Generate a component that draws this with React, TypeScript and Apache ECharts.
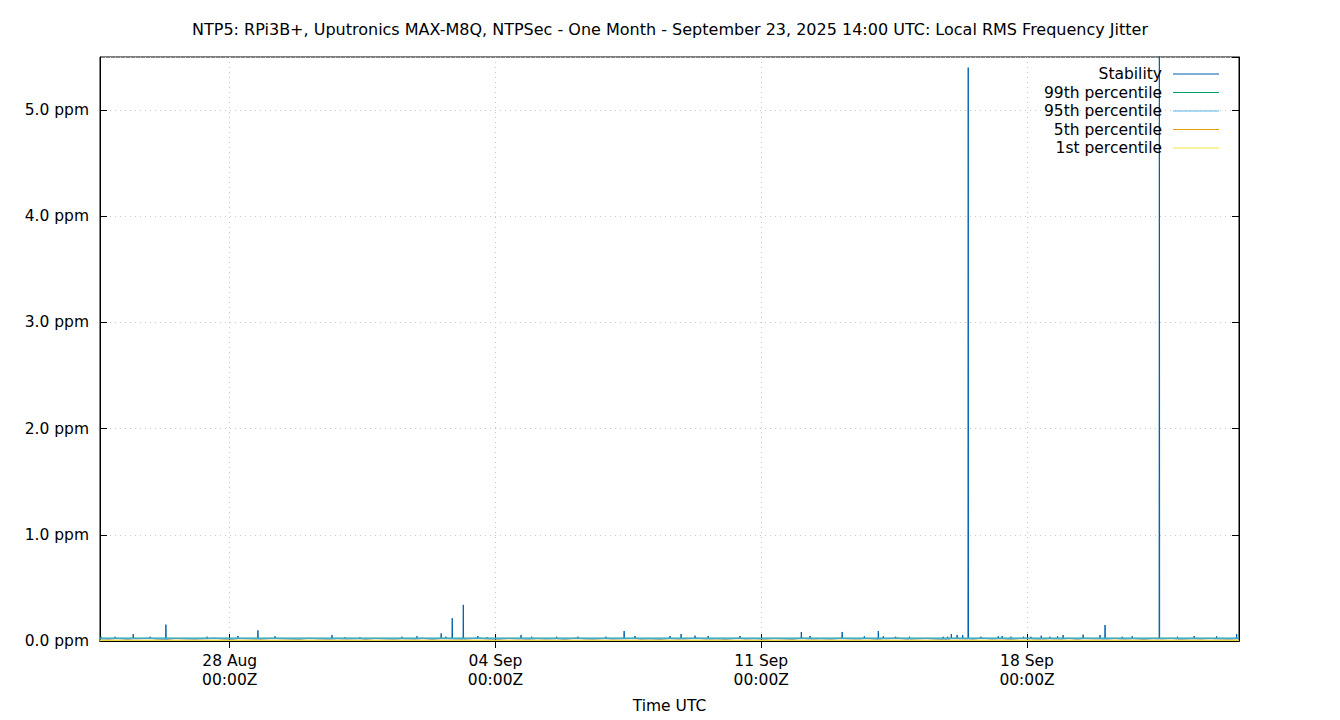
import { useEffect, useRef } from "react";
import * as echarts from "echarts";

const TITLE =
  "NTP5: RPi3B+, Uputronics MAX-M8Q, NTPSec - One Month - September 23, 2025 14:00 UTC: Local RMS Frequency Jitter";

const rangeStart = "2025-08-24T14:00:00Z";
const rangeEnd = "2025-09-23T14:00:00Z";
const tickDates = [
  "2025-08-28T00:00:00Z",
  "2025-09-04T00:00:00Z",
  "2025-09-11T00:00:00Z",
  "2025-09-18T00:00:00Z",
];
const yMax = 5.5;

// background jitter (ppm), one reading every 6 h from rangeStart
const baseJitter = [
  0.021, 0.019, 0.023, 0.018, 0.022, 0.025, 0.02, 0.017, 0.024, 0.021,
  0.019, 0.022, 0.026, 0.02, 0.018, 0.023, 0.021, 0.019, 0.024, 0.022,
  0.02, 0.018, 0.025, 0.021, 0.019, 0.023, 0.02, 0.022, 0.018, 0.024,
  0.021, 0.019, 0.022, 0.02, 0.025, 0.018, 0.023, 0.021, 0.019, 0.022,
  0.026, 0.02, 0.018, 0.024, 0.021, 0.019, 0.023, 0.02, 0.022, 0.018,
  0.025, 0.021, 0.019, 0.023, 0.02, 0.022, 0.024, 0.019, 0.021, 0.018,
  0.023, 0.02, 0.022, 0.025, 0.019, 0.021, 0.018, 0.024, 0.02, 0.022,
  0.019, 0.023, 0.021, 0.018, 0.025, 0.02, 0.022, 0.019, 0.024, 0.021,
  0.02, 0.023, 0.018, 0.022, 0.026, 0.019, 0.021, 0.024, 0.02, 0.018,
  0.023, 0.021, 0.019, 0.025, 0.02, 0.022, 0.018, 0.024, 0.021, 0.019,
  0.022, 0.02, 0.025, 0.018, 0.023, 0.021, 0.019, 0.024, 0.02, 0.022,
  0.018, 0.023, 0.021, 0.025, 0.019, 0.022, 0.02, 0.024, 0.021, 0.019,
  0.022,
];

// short excursions (UTC, 2025)
const spikeTimes = [
  "08-24 14:40", "08-24 23:30", "08-25 11:00", "08-25 21:40", "08-26 07:40",
  "08-27 09:40", "08-28 05:10", "08-28 17:50", "08-29 04:40", "08-30 16:40",
  "08-31 00:50", "08-31 10:20", "09-01 12:50", "09-01 22:20", "09-02 13:40",
  "09-02 16:40", "09-02 20:40", "09-03 03:40", "09-03 12:50", "09-03 18:40",
  "09-04 16:10", "09-04 22:50", "09-05 14:40", "09-06 04:10", "09-06 21:50",
  "09-07 09:20", "09-07 16:10", "09-08 14:20", "09-08 21:20", "09-09 06:10",
  "09-09 14:30", "09-10 10:30", "09-12 01:20", "09-12 06:50", "09-13 03:10",
  "09-13 17:10", "09-14 02:00", "09-14 05:10", "09-14 13:00", "09-14 21:40",
  "09-15 19:00", "09-15 21:50", "09-16 00:10", "09-16 03:50", "09-16 07:20",
  "09-16 10:50", "09-16 18:50", "09-17 05:50", "09-17 08:20", "09-17 13:50",
  "09-17 21:50", "09-18 02:30", "09-18 09:00", "09-18 14:30", "09-18 19:20",
  "09-18 22:50", "09-19 11:30", "09-19 22:10", "09-20 01:20", "09-20 12:10",
  "09-20 18:30", "09-21 11:40", "09-21 23:10", "09-22 09:40", "09-22 23:50",
  "09-23 12:30",
];
const spikeValues = [
  0.04, 0.04, 0.066, 0.04, 0.154,
  0.04, 0.047, 0.1, 0.045, 0.056,
  0.035, 0.035, 0.04, 0.045, 0.072,
  0.04, 0.214, 0.34, 0.047, 0.035,
  0.057, 0.04, 0.04, 0.04, 0.04,
  0.094, 0.047, 0.047, 0.066, 0.05,
  0.047, 0.047, 0.085, 0.047, 0.085,
  0.045, 0.094, 0.045, 0.04, 0.04,
  0.04, 0.04, 0.066, 0.056, 0.056,
  5.4, 0.04, 0.045, 0.047, 0.04,
  0.04, 0.04, 0.05, 0.04, 0.045,
  0.056, 0.06, 0.056, 0.15, 0.04,
  0.045, 7.5, 0.04, 0.047, 0.045,
  0.066,
];

const seriesNames = ["Stability", "99th percentile", "95th percentile", "5th percentile", "1st percentile"];
const seriesColors = ["#0060ad", "#009e73", "#56b4e9", "#e69f00", "#f0e442"];
const percentileValues = [0.027, 0.026, 0.007, 0.006];

const FONT = "DejaVu Sans";
const HOUR = 3600 * 1000;

function buildStability(): [number, number][] {
  const t0 = Date.parse(rangeStart);
  const pts: [number, number][] = baseJitter.map((v, i) => [t0 + i * 6 * HOUR, v]);
  spikeTimes.forEach((s, i) => {
    const t = Date.parse(`2025-${s.replace(" ", "T")}:00Z`);
    const near = baseJitter[Math.min(baseJitter.length - 1, Math.round((t - t0) / (6 * HOUR)))];
    pts.push([t - 10 * 60 * 1000, near], [t, spikeValues[i]], [t + 10 * 60 * 1000, near]);
  });
  return pts.sort((a, b) => a[0] - b[0]);
}

const MONTHS = ["Jan", "Feb", "Mar", "Apr", "May", "Jun", "Jul", "Aug", "Sep", "Oct", "Nov", "Dec"];
function dayLabel(v: number) {
  const d = new Date(v);
  const dd = String(d.getUTCDate()).padStart(2, "0");
  const hh = String(d.getUTCHours()).padStart(2, "0");
  const mm = String(d.getUTCMinutes()).padStart(2, "0");
  return `${dd} ${MONTHS[d.getUTCMonth()]}\n${hh}:${mm}Z`;
}

export default function App() {
  const ref = useRef<HTMLDivElement>(null);

  useEffect(() => {
    if (!ref.current) return;
    const chart = echarts.init(ref.current, undefined, { renderer: "svg" });
    const xMin = Date.parse(rangeStart);
    const xMax = Date.parse(rangeEnd);
    const ticks = tickDates.map((d) => Date.parse(d));
    const tickStyle = { show: true, inside: true, length: 7, lineStyle: { color: "#000", width: 1 } };

    chart.setOption({
      animation: false,
      backgroundColor: "#fff",
      textStyle: { fontFamily: FONT },
      title: {
        text: TITLE,
        left: "center",
        top: 16,
        textStyle: { fontFamily: FONT, fontSize: 16, fontWeight: "normal", color: "#000" },
      },
      grid: {
        left: 100,
        right: 101,
        top: 57,
        bottom: 79,
        show: true,
        borderColor: "#000",
        borderWidth: 1,
        backgroundColor: "transparent",
      },
      legend: {
        data: seriesNames,
        orient: "vertical",
        align: "right",
        right: 116,
        top: 60,
        icon: "rect",
        itemWidth: 46,
        itemHeight: 1,
        itemGap: 0.5,
        textStyle: { fontFamily: FONT, fontSize: 15.5, color: "#000", lineHeight: 18, padding: [0, 6, 0, 0] },
      },
      xAxis: [
        {
          type: "value",
          min: xMin,
          max: xMax,
          name: "Time UTC",
          nameLocation: "middle",
          nameGap: 57,
          nameTextStyle: { fontFamily: FONT, fontSize: 15.5, color: "#000" },
          axisLine: { show: true, lineStyle: { color: "#000" } },
          axisTick: { ...tickStyle, customValues: ticks },
          axisLabel: {
            customValues: ticks,
            formatter: (v: number) => dayLabel(v),
            fontFamily: FONT,
            fontSize: 15.5,
            color: "#000",
            lineHeight: 19,
            margin: 10,
          },
          splitLine: { show: true, lineStyle: { color: "#c8c8c8", width: 1, type: [1, 4] } },
        },
        {
          type: "value",
          position: "top",
          min: xMin,
          max: xMax,
          axisLine: { show: true, lineStyle: { color: "#000" } },
          axisTick: { ...tickStyle, customValues: ticks },
          axisLabel: { show: false, customValues: ticks },
          splitLine: { show: false },
        },
      ],
      yAxis: [
        {
          type: "value",
          min: 0,
          max: yMax,
          interval: 1,
          axisLine: { show: true, lineStyle: { color: "#000" } },
          axisTick: tickStyle,
          axisLabel: {
            formatter: (v: number) => `${v.toFixed(1)} ppm`,
            showMaxLabel: false,
            fontFamily: FONT,
            fontSize: 15.5,
            color: "#000",
            margin: 11,
          },
          splitLine: { show: true, lineStyle: { color: "#c8c8c8", width: 1, type: [1, 4] } },
        },
        {
          type: "value",
          position: "right",
          min: 0,
          max: yMax,
          interval: 1,
          axisLine: { show: true, lineStyle: { color: "#000" } },
          axisTick: tickStyle,
          axisLabel: { show: false },
          splitLine: { show: false },
        },
      ],
      series: [
        {
          name: seriesNames[0],
          type: "line",
          data: buildStability(),
          showSymbol: false,
          clip: true,
          lineStyle: { color: seriesColors[0], width: 1 },
          itemStyle: { color: seriesColors[0] },
        },
        ...percentileValues.map((p, i) => ({
          name: seriesNames[i + 1],
          type: "line",
          data: [
            [xMin, p],
            [xMax, p],
          ],
          showSymbol: false,
          lineStyle: { color: seriesColors[i + 1], width: 1 },
          itemStyle: { color: seriesColors[i + 1] },
        })),
      ],
    });

    return () => chart.dispose();
  }, []);

  return <div ref={ref} style={{ position: "absolute", left: 0, top: 0, width: 1340, height: 720 }} />;
}
